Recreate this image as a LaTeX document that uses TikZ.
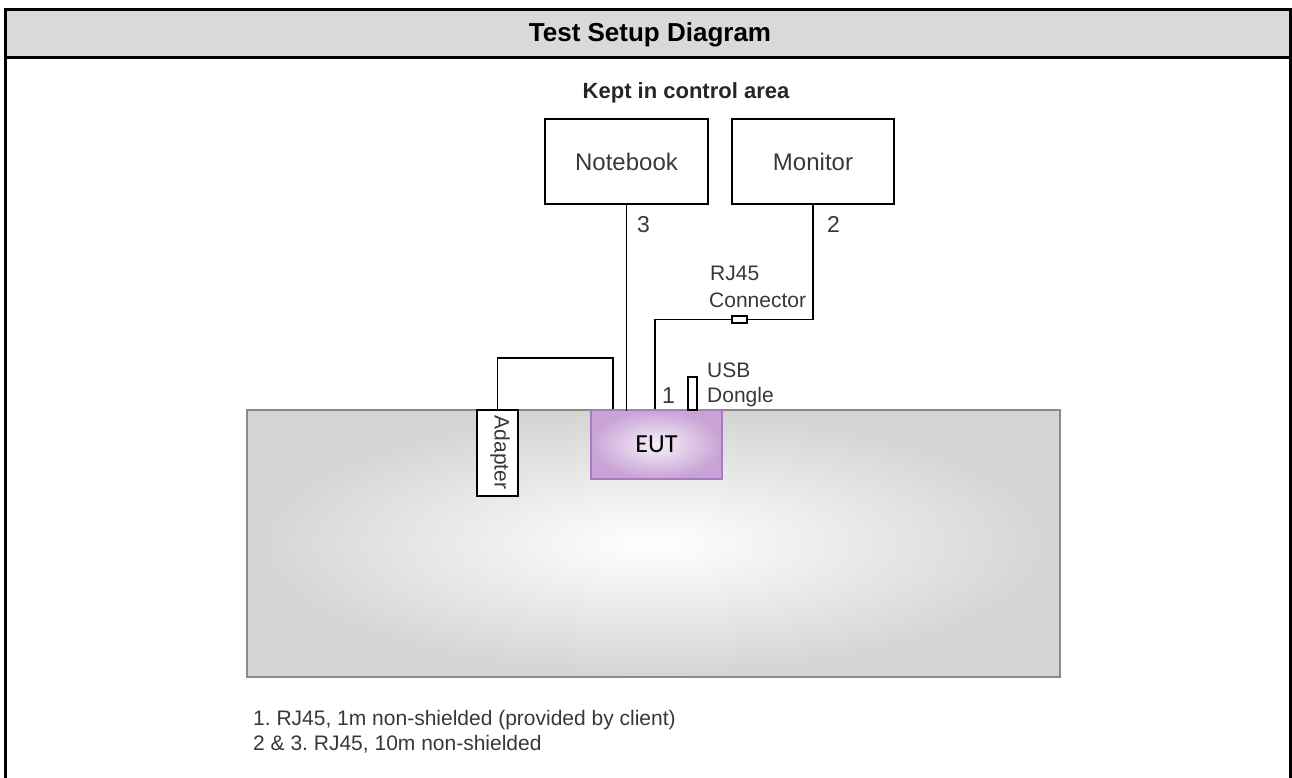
\documentclass[tikz,border=0pt]{standalone}
\usepackage{fontspec}
\setmainfont{Liberation Sans}
\newfontfamily\eutfont{Carlito}
\usetikzlibrary{positioning}
\definecolor{hdrgray}{HTML}{D9D9D9}
\definecolor{txtgray}{HTML}{383838}
\definecolor{tblgray}{HTML}{8A8A8A}
\definecolor{tblshade}{HTML}{D4D4D4}
\definecolor{eutedge}{HTML}{A77BBF}
\definecolor{eutshade}{HTML}{C9A3D6}
\definecolor{eutlight}{HTML}{F6F0F8}
\frenchspacing

\begin{document}
\begin{tikzpicture}[x=1pt,y=-1pt,
    box/.style={draw,line width=1.7pt,inner sep=0pt},
    wire/.style={line width=1.7pt},
    lbl/.style={inner sep=0pt,anchor=base west,text=txtgray,font=\fontsize{21}{25}\selectfont}]
    \useasboundingbox (0,0) rectangle (1292,778);
    % frame and header
    \fill[hdrgray] (5.5,11) rectangle (1290.5,56);
    \draw[line width=3pt] (5.5,778)--(5.5,9.5)--(1290.5,9.5)--(1290.5,778);
    \draw[line width=3pt] (5.5,57.5)--(1290.5,57.5);
    \node[anchor=base,inner sep=0pt,font=\bfseries\fontsize{26}{30}\selectfont] (title) at (650,42) {Test Setup Diagram};
    \node[anchor=base,inner sep=0pt,font=\bfseries\fontsize{22}{26}\selectfont,text=black!85] (kept) at (686,99) {Kept in control area};

    % table and equipment
    \node[draw=tblgray,line width=1.5pt,inner color=white,outer color=tblshade,minimum width=813pt,minimum height=267pt] (table) at (653.5,543.5) {};
    \node[box,minimum width=163pt,minimum height=85pt,text=txtgray,font=\fontsize{24}{28}\selectfont] (nb) at (626.5,161.5) {Notebook};
    \node[box,minimum width=162pt,minimum height=85pt,text=txtgray,font=\fontsize{24}{28}\selectfont] (mon) at (813,161.5) {Monitor};
    \node[draw=eutedge,line width=1.7pt,inner color=eutlight,outer color=eutshade,minimum width=131pt,minimum height=69pt,text=black,font=\eutfont\fontsize{26}{30}\selectfont] (eut) at (656.5,444.5) {EUT};
    \node[box,fill=white,minimum width=41pt,minimum height=86pt] (ad) at (497.5,453) {};
    \node[rotate=-90,inner sep=0pt,text=txtgray,font=\fontsize{21}{25}\selectfont] (adtxt) at (500,452.5) {Adapter};
    \node[box,fill=white,minimum width=9pt,minimum height=33pt] (usb) at (692.5,393.5) {};
    \node[box,fill=white,minimum width=15pt,minimum height=7pt] (rj) at (739.5,319.5) {};

    % cables
    \draw[wire] (nb.south)--([yshift=-2pt]nb.south |- eut.north);
    \draw[wire] (rj.east) -| (mon.south);
    \draw[wire] (rj.west) -| ([xshift=65pt]eut.north west);
    \draw[wire] (ad.north)--++(0,-51) -| ([xshift=23pt]eut.north west);

    % labels
    \node[lbl,font=\fontsize{23}{27}\selectfont] (l3) at (637,232) {3};
    \node[lbl,font=\fontsize{23}{27}\selectfont] (l2) at (827,232) {2};
    \node[lbl,font=\fontsize{23}{27}\selectfont] (l1) at (662,403) {1};
    \node[lbl] (rjtxt) at (710,280) {RJ45};
    \node[lbl] (contxt) at (709,307) {Connector};
    \node[lbl] (usbtxt) at (707,377) {USB};
    \node[lbl] (dongtxt) at (707,402) {Dongle};
    \node[lbl] (note1) at (253,725) {1. RJ45, 1m non-shielded (provided by client)};
    \node[lbl] (note2) at (253,750) {2 \& 3. RJ45, 10m non-shielded};
\end{tikzpicture}
\end{document}
